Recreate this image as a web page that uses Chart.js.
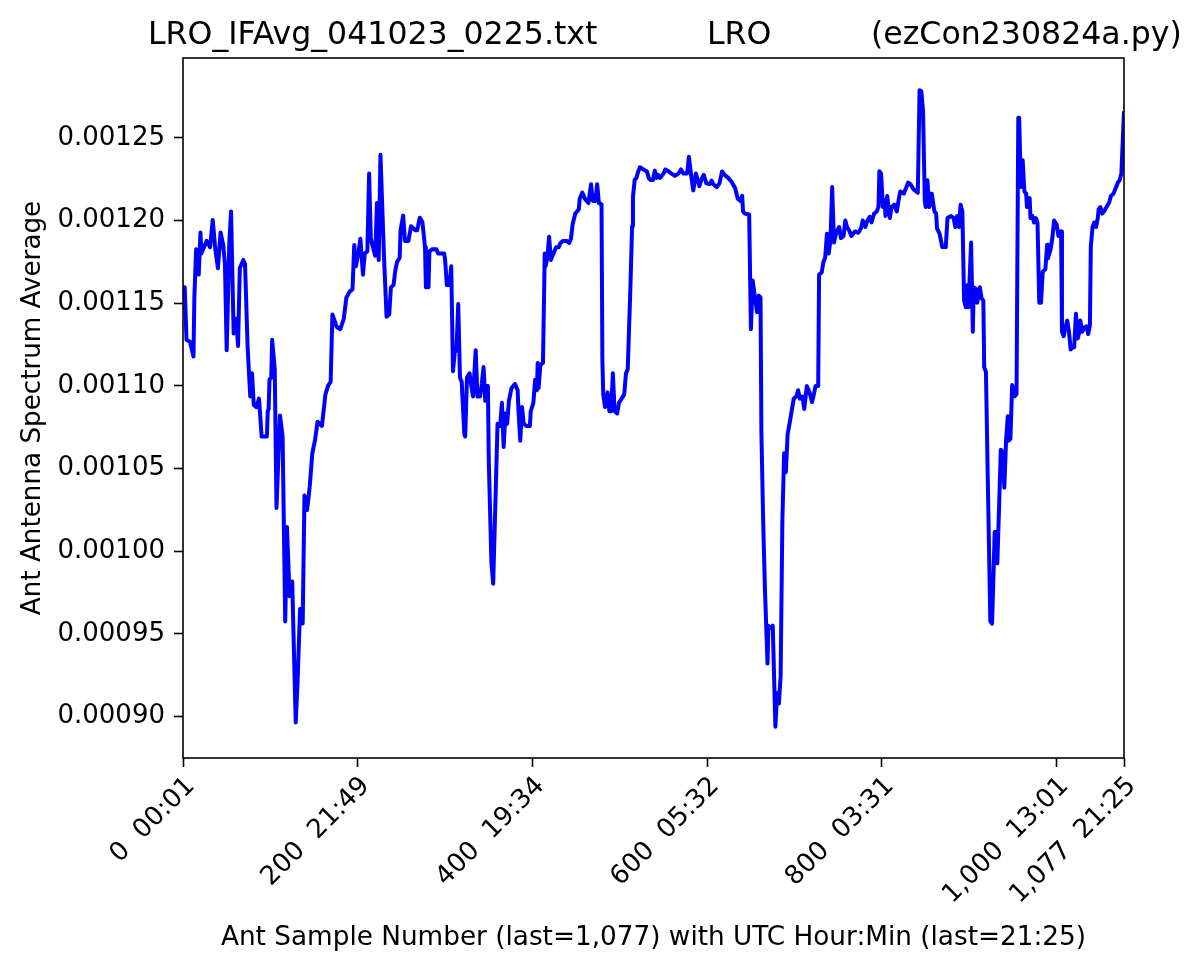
<!DOCTYPE html>
<html>
<head>
<meta charset="utf-8">
<title>LRO IFAvg</title>
<script src="https://cdn.jsdelivr.net/npm/chart.js@4.4.1/dist/chart.umd.min.js"></script>
<style>
  html, body { margin: 0; padding: 0; background: #fff; }
  #wrap { width: 1200px; height: 972px; }
</style>
</head>
<body>
<div id="wrap"><canvas id="ifAvgChart" width="1200" height="972"></canvas></div>
<script>
  // sample numbers and antenna spectrum averages
  const sampleNum = [
    0, 2, 4, 8, 12, 13, 15, 18, 20, 21, 27, 31, 34, 37, 40, 43, 46, 48, 50, 53,
    55, 58, 61, 63, 65, 69, 71, 74, 77, 79, 81, 84, 87, 90, 96, 97, 98, 99, 101, 102,
    105, 107, 111, 114, 117, 119, 122, 125, 129, 131, 134, 137, 139, 142, 145, 148, 151, 154, 159, 163,
    166, 169, 171, 176,
    180, 184, 187, 191, 194, 196, 198, 201, 203, 206, 208, 211, 213, 215, 218, 220, 222, 224, 226, 228,
    230, 233, 236, 238, 241, 243, 245, 248, 249, 252, 254, 258, 261, 266, 268, 271, 274, 277, 278, 281,
    282, 285, 290, 292, 296, 299, 300, 302, 305, 307, 309, 311, 313, 315, 317, 319, 322, 323, 325, 328,
    330, 332, 335, 337, 340, 342, 344, 346, 348, 349, 350, 353, 355, 357, 360, 363,
    365, 367, 369, 371, 373, 376, 380, 383, 384, 386, 388, 390, 393, 397, 398, 401, 403, 405, 406, 407,
    409, 412, 414, 415, 417, 419, 421, 424, 427, 430, 432, 435, 439, 442, 444, 446, 449, 451, 453, 454,
    457, 460, 464, 467, 469, 472, 474, 476, 479, 480, 481, 483, 486, 488, 490, 492, 494, 497, 499, 502,
    505, 507, 509, 512, 514, 515, 517, 519, 521, 523, 527, 531, 533, 535, 538, 540, 542, 544,
    546, 550, 552, 556, 559, 563, 567, 570, 573, 577, 579, 582, 584, 587, 589, 591, 594, 596, 599, 603,
    605, 607, 611, 614, 617, 620, 624, 628, 632, 635, 638, 640, 641, 643, 648, 650, 652, 655, 657, 659,
    661, 662, 664, 666, 669, 670, 673, 675, 678, 680, 682, 684, 686, 688, 690, 692, 695, 699, 702, 704,
    706, 709, 711, 714, 717, 720, 722, 724, 727, 728, 731, 733, 735, 737, 739, 741,
    743, 745, 748, 751, 753, 756, 758, 760, 763, 765, 769, 773, 776, 778, 781, 783, 786, 788, 791, 794,
    796, 797, 799, 801, 803, 804, 806, 809, 811, 814, 817, 819, 821, 825, 828, 830, 833, 836, 841, 843,
    845, 847, 849, 850, 852, 854, 857, 860, 862, 863, 866, 869, 873, 875, 879, 882, 884, 886, 888, 890,
    892, 894, 896, 898, 899, 902, 904, 905, 908, 909,
    912, 914, 916, 917, 919, 921, 923, 924, 926, 928, 929, 931, 932, 934, 936, 938, 940, 942, 944, 945,
    947, 949, 952, 954, 956, 957, 959, 961, 963, 965, 966, 969, 970, 972, 974, 976, 978, 980, 982, 984,
    987, 989, 990, 993, 995, 997, 1000, 1002, 1005, 1006, 1008, 1010, 1012, 1014, 1016, 1018, 1020, 1022, 1024, 1026,
    1027, 1029, 1032, 1034, 1036, 1038, 1039, 1041, 1043, 1045, 1047, 1048, 1050, 1052, 1054, 1057, 1060, 1062, 1065, 1068,
    1070, 1072, 1074, 1077
  ];

  const antAvg = [
    0.0011597, 0.0011597, 0.0011279, 0.0011267, 0.0011178, 0.0011534, 0.0011826, 0.0011673, 0.0011928, 0.0011801,
    0.0011877, 0.0011839, 0.0012004, 0.0011826, 0.0011712, 0.0011928, 0.0011852, 0.0011737, 0.0011216, 0.0011864,
    0.0012055, 0.0011317, 0.0011406, 0.0011241, 0.0011712, 0.0011762, 0.0011737, 0.0011228, 0.0010936, 0.0011076,
    0.0010885, 0.0010872, 0.0010923, 0.0010694, 0.0010694, 0.0010847, 0.0010860, 0.0011038, 0.0011050, 0.0011279,
    0.0011101, 0.0010262, 0.0010821, 0.0010694, 0.0009575, 0.0010147, 0.0009728, 0.0009817, 0.0008965, 0.0009194,
    0.0009652, 0.0009563, 0.0010338, 0.0010249, 0.0010389, 0.0010593, 0.0010669, 0.0010783, 0.0010758, 0.0010949,
    0.0011000, 0.0011025, 0.0011432, 0.0011356,
    0.0011343, 0.0011406, 0.0011534, 0.0011572, 0.0011584, 0.0011852, 0.0011724, 0.0011813, 0.0011890, 0.0011673,
    0.0011801, 0.0011813, 0.0012284, 0.0011890, 0.0011826, 0.0011788, 0.0012106, 0.0011762, 0.0012398, 0.0012093,
    0.0011788, 0.0011419, 0.0011432, 0.0011597, 0.0011610, 0.0011699, 0.0011750, 0.0011775, 0.0011941, 0.0012030,
    0.0011877, 0.0011877, 0.0011966, 0.0011941, 0.0011941, 0.0012017, 0.0011991, 0.0011839, 0.0011597, 0.0011597,
    0.0011813, 0.0011826, 0.0011826, 0.0011801, 0.0011801, 0.0011801, 0.0011762, 0.0011610, 0.0011610, 0.0011724,
    0.0011089, 0.0011203, 0.0011216, 0.0011495, 0.0011050, 0.0011025, 0.0010707, 0.0010694, 0.0011050, 0.0011076,
    0.0011000, 0.0010936, 0.0011216, 0.0010936, 0.0010936, 0.0011012, 0.0011114, 0.0010910, 0.0011000, 0.0010987,
    0.0010542, 0.0009931, 0.0009804, 0.0010186, 0.0010771, 0.0010758,
    0.0010898, 0.0010631, 0.0010834, 0.0010771, 0.0010910, 0.0010987, 0.0011012, 0.0010974, 0.0010847, 0.0010669,
    0.0010872, 0.0010771, 0.0010758, 0.0010758, 0.0010847, 0.0010898, 0.0011038, 0.0010974, 0.0011139, 0.0010987,
    0.0011127, 0.0011139, 0.0011801, 0.0011724, 0.0011775, 0.0011902, 0.0011762, 0.0011801, 0.0011839, 0.0011839,
    0.0011864, 0.0011877, 0.0011877, 0.0011864, 0.0011890, 0.0011979, 0.0012042, 0.0012055, 0.0012068, 0.0012131,
    0.0012169, 0.0012131, 0.0012106, 0.0012220, 0.0012119, 0.0012119, 0.0012220, 0.0012106, 0.0012098, 0.0011152,
    0.0010949, 0.0010872, 0.0010961, 0.0010847, 0.0010847, 0.0011076, 0.0010847, 0.0010834, 0.0010898, 0.0010923,
    0.0010949, 0.0011076, 0.0011101, 0.0011584, 0.0011966, 0.0012144, 0.0012246, 0.0012258, 0.0012297, 0.0012322,
    0.0012309, 0.0012297, 0.0012258, 0.0012246, 0.0012246, 0.0012302, 0.0012258, 0.0012276,
    0.0012258, 0.0012284, 0.0012309, 0.0012297, 0.0012284, 0.0012271, 0.0012284, 0.0012309, 0.0012284, 0.0012284,
    0.0012386, 0.0012258, 0.0012182, 0.0012284, 0.0012246, 0.0012208, 0.0012258, 0.0012276, 0.0012225, 0.0012220,
    0.0012241, 0.0012220, 0.0012202, 0.0012225, 0.0012297, 0.0012276, 0.0012258, 0.0012233, 0.0012195, 0.0012131,
    0.0012119, 0.0012149, 0.0012055, 0.0012042, 0.0012037, 0.0011343, 0.0011638, 0.0011521, 0.0011445, 0.0011546,
    0.0011534, 0.0010720, 0.0010186, 0.0009779, 0.0009321, 0.0009550, 0.0009537, 0.0009550, 0.0008939, 0.0009143,
    0.0009079, 0.0009245, 0.0010186, 0.0010593, 0.0010478, 0.0010707, 0.0010796, 0.0010923, 0.0010936, 0.0010974,
    0.0010923, 0.0010936, 0.0010860, 0.0011000, 0.0010961, 0.0010903, 0.0010949, 0.0011000, 0.0011000, 0.0011673,
    0.0011686, 0.0011750, 0.0011775, 0.0011920, 0.0011801, 0.0011877,
    0.0012203, 0.0011867, 0.0011934, 0.0011961, 0.0011894, 0.0011907, 0.0012001, 0.0011961, 0.0011934, 0.0011907,
    0.0011934, 0.0011926, 0.0011953, 0.0012001, 0.0011961, 0.0011996, 0.0012023, 0.0011988, 0.0012042, 0.0012055,
    0.0012082, 0.0012298, 0.0012284, 0.0012082, 0.0012123, 0.0012028, 0.0012149, 0.0012015, 0.0012082, 0.0012096,
    0.0012055, 0.0012123, 0.0012176, 0.0012163, 0.0012203, 0.0012230, 0.0012217, 0.0012190, 0.0012168, 0.0012788,
    0.0012782, 0.0012661, 0.0012123, 0.0012082, 0.0012244, 0.0012082, 0.0012163, 0.0012055, 0.0012042, 0.0011953,
    0.0011920, 0.0011840, 0.0011840, 0.0012015, 0.0012028, 0.0012015, 0.0011961, 0.0012028, 0.0011961, 0.0012096,
    0.0012055, 0.0011516, 0.0011476, 0.0011611, 0.0011476, 0.0011867, 0.0011328, 0.0011597, 0.0011584, 0.0011503,
    0.0011597, 0.0011530, 0.0011516, 0.0011112, 0.0011085, 0.0010466, 0.0009873, 0.0009577, 0.0009563, 0.0009927,
    0.0010116, 0.0010116, 0.0009927, 0.0010264, 0.0010614, 0.0010601, 0.0010385, 0.0010668, 0.0010816, 0.0010668,
    0.0010681, 0.0011005, 0.0010937, 0.0010951, 0.0012621, 0.0012621, 0.0012203, 0.0012365, 0.0012176, 0.0012163,
    0.0012082, 0.0012136, 0.0012015, 0.0012028, 0.0011988, 0.0012015, 0.0011988, 0.0011503, 0.0011503, 0.0011691,
    0.0011705, 0.0011853, 0.0011772, 0.0011826, 0.0011894, 0.0012001, 0.0011974, 0.0011907, 0.0011934, 0.0011328,
    0.0011301, 0.0011355, 0.0011395, 0.0011328, 0.0011220, 0.0011234, 0.0011234, 0.0011436, 0.0011287, 0.0011328,
    0.0011395, 0.0011328, 0.0011355, 0.0011360, 0.0011314, 0.0011368, 0.0011840, 0.0011961, 0.0011988, 0.0011961,
    0.0012015, 0.0012069, 0.0012082, 0.0012042, 0.0012055, 0.0012082, 0.0012109, 0.0012149, 0.0012163, 0.0012203,
    0.0012230, 0.0012244, 0.0012284, 0.0012661
  ];

  const xTickValues = [0, 200, 400, 600, 800, 1000, 1077];
  const xTickLabels = ["0  00:01", "200  21:49", "400  19:34", "600  05:32", "800  03:31", "1,000  13:01", "1,077  21:25"];
  const yTickValues = [0.0009, 0.00095, 0.001, 0.00105, 0.0011, 0.00115, 0.0012, 0.00125];

  const titleParts = ["LRO_IFAvg_041023_0225.txt", "LRO", "(ezCon230824a.py)"];
  const xAxisTitle = "Ant Sample Number (last=1,077) with UTC Hour:Min (last=21:25)";
  const yAxisTitle = "Ant Antenna Spectrum Average";

  const FONT = "'DejaVu Sans', sans-serif";

  const points = sampleNum.map((s, i) => ({ x: s, y: antAvg[i] }));

  // frame + title, drawn like matplotlib does it
  const framePlugin = {
    id: "frame",
    afterDraw(chart) {
      const { ctx, chartArea } = chart;
      ctx.save();
      ctx.strokeStyle = "#000";
      ctx.lineWidth = 1.6;
      ctx.strokeRect(chartArea.left, chartArea.top, chartArea.right - chartArea.left, chartArea.bottom - chartArea.top);
      ctx.fillStyle = "#000";
      ctx.font = "31.6px " + FONT;
      ctx.textBaseline = "alphabetic";
      ctx.textAlign = "left";
      const xs = [148, 707, 871];
      titleParts.forEach((t, i) => ctx.fillText(t, xs[i], 44));
      ctx.restore();
    },
  };

  new Chart(document.getElementById("ifAvgChart").getContext("2d"), {
    type: "line",
    data: {
      datasets: [{
        data: points,
        borderColor: "#0000ff",
        borderWidth: 4,
        borderJoinStyle: "round",
        pointRadius: 0,
        tension: 0,
        fill: false,
      }],
    },
    options: {
      responsive: false,
      devicePixelRatio: 1,
      animation: false,
      layout: { padding: { left: 10, right: 76, top: 58, bottom: 10 } },
      plugins: { legend: { display: false }, tooltip: { enabled: false }, title: { display: false } },
      scales: {
        x: {
          type: "linear",
          min: 0,
          max: 1077,
          afterBuildTicks: (scale) => { scale.ticks = xTickValues.map((v) => ({ value: v })); },
          afterFit: (scale) => { scale.height = 204; },
          grid: { drawOnChartArea: false, drawTicks: true, tickLength: 9, tickWidth: 1.6, tickColor: "#000" },
          border: { display: false },
          ticks: {
            autoSkip: false,
            minRotation: 45,
            maxRotation: 45,
            padding: 4,
            labelOffset: 8,
            color: "#000",
            font: { family: FONT, size: 26 },
            callback: (value) => xTickLabels[xTickValues.indexOf(value)],
          },
          title: {
            display: true,
            text: xAxisTitle,
            color: "#000",
            font: { family: FONT, size: 26.3 },
            padding: { top: 0, bottom: 8 },
          },
        },
        y: {
          min: 0.000875,
          max: 0.0012983,
          afterBuildTicks: (scale) => { scale.ticks = yTickValues.map((v) => ({ value: v })); },
          afterFit: (scale) => { scale.width = 173; },
          grid: { drawOnChartArea: false, drawTicks: true, tickLength: 9, tickWidth: 1.6, tickColor: "#000" },
          border: { display: false },
          ticks: {
            padding: 9,
            color: "#000",
            font: { family: FONT, size: 26 },
            callback: (value) => Number(value).toFixed(5),
          },
          title: {
            display: true,
            text: yAxisTitle,
            color: "#000",
            font: { family: FONT, size: 26.2 },
            padding: { top: 7, bottom: 0 },
          },
        },
      },
    },
    plugins: [framePlugin],
  });
</script>
</body>
</html>
